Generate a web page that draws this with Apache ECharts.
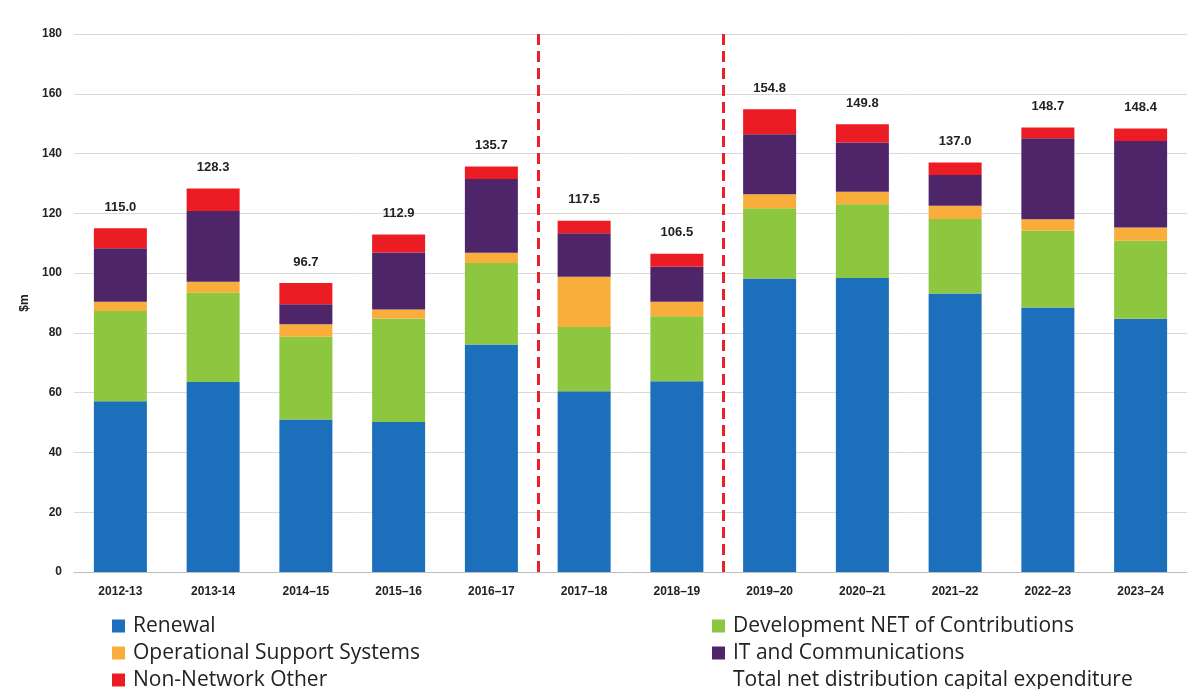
<!DOCTYPE html>
<html>
<head>
<meta charset="utf-8">
<script src="https://cdn.jsdelivr.net/npm/echarts@6/dist/echarts.min.js"></script>
<style>
  html, body { margin: 0; padding: 0; background: #ffffff; }
  #chart { width: 1187px; height: 689px; }
</style>
</head>
<body>
<div id="chart"></div>
<script>
// Financial years
const years = ['2012-13', '2013-14', '2014–15', '2015–16', '2016–17', '2017–18',
               '2018–19', '2019–20', '2020–21', '2021–22', '2022–23', '2023–24'];

// Capital expenditure components, $m
const renewal      = [57.1, 63.6, 51.0, 50.2, 76.1, 60.5, 63.8, 98.2, 98.4, 93.2, 88.5, 84.7];
const development  = [30.2, 29.8, 27.7, 34.6, 27.3, 21.5, 21.8, 23.5, 24.6, 24.9, 25.7, 26.1];
const operational  = [3.1, 3.7, 4.2, 3.0, 3.4, 16.8, 4.8, 4.7, 4.2, 4.4, 3.8, 4.5];
const itComms      = [17.9, 23.7, 6.7, 19.1, 24.7, 14.5, 11.7, 20.1, 16.5, 10.3, 27.1, 28.9];
const nonNetwork   = [6.7, 7.5, 7.1, 6.0, 4.2, 4.2, 4.4, 8.3, 6.1, 4.2, 3.6, 4.2];

// Total net distribution capital expenditure, $m
const totals       = [115.0, 128.3, 96.7, 112.9, 135.7, 117.5, 106.5, 154.8, 149.8, 137.0, 148.7, 148.4];

// Period boundaries (in category units) marked with dashed lines
const periodBreaks = [5, 7];

// Value axis ticks
const yTicks = [0, 20, 40, 60, 80, 100, 120, 140, 160, 180];

const FONT = '"Liberation Sans", Arial, sans-serif';
const LEGEND_FONT = '"Open Sans", "Liberation Sans", sans-serif';

const chart = echarts.init(document.getElementById('chart'), null, { renderer: 'canvas' });

function barSeries(name, data, color) {
  return {
    name: name,
    type: 'bar',
    stack: 'capex',
    barWidth: 53,
    data: data,
    itemStyle: { color: color },
    emphasis: { disabled: true }
  };
}

function legendColumn(left, names) {
  return {
    orient: 'vertical',
    left: left,
    top: 615,
    height: 100,
    padding: 0,
    itemWidth: 13,
    itemHeight: 13,
    itemGap: 5,
    icon: 'rect',
    textStyle: { color: '#222222', fontFamily: LEGEND_FONT, fontSize: 21, lineHeight: 22, padding: [0, 0, 0, 3] },
    data: names
  };
}

const option = {
  animation: false,
  backgroundColor: '#ffffff',
  textStyle: { fontFamily: FONT },
  grid: { left: 74, top: 34, width: 1121, height: 538 },
  xAxis: [
    {
      type: 'category',
      data: years,
      axisTick: { show: false },
      axisLine: { lineStyle: { color: '#bfbfbf', width: 1 } },
      axisLabel: { color: '#222222', fontSize: 12, fontWeight: 'bold', margin: 14 }
    },
    {
      type: 'value',
      min: 0,
      max: years.length,
      show: false
    }
  ],
  yAxis: {
    type: 'value',
    min: yTicks[0],
    max: yTicks[yTicks.length - 1],
    interval: yTicks[1] - yTicks[0],
    name: '$m',
    nameLocation: 'middle',
    nameGap: 33,
    nameTextStyle: { color: '#222222', fontSize: 12, fontWeight: 'bold' },
    axisLine: { show: false },
    axisTick: { show: false },
    axisLabel: { color: '#222222', fontSize: 12, fontWeight: 'bold', margin: 12 },
    splitLine: { lineStyle: { color: '#d9d9d9', width: 1 } }
  },
  legend: [
    legendColumn(112, ['Renewal', 'Operational Support Systems', 'Non-Network Other']),
    legendColumn(712, [
      'Development NET of Contributions',
      'IT and Communications',
      { name: 'Total net distribution capital expenditure', itemStyle: { color: 'rgba(0,0,0,0)', borderWidth: 0 } }
    ])
  ],
  series: [
    barSeries('Renewal', renewal, '#1b6fbb'),
    barSeries('Development NET of Contributions', development, '#8dc63f'),
    barSeries('Operational Support Systems', operational, '#f9ad3b'),
    barSeries('IT and Communications', itComms, '#4d2568'),
    barSeries('Non-Network Other', nonNetwork, '#ec1c24'),
    {
      name: 'Total net distribution capital expenditure',
      type: 'line',
      data: totals,
      symbol: 'circle',
      symbolSize: 1,
      itemStyle: { color: 'rgba(0,0,0,0)' },
      lineStyle: { width: 0, opacity: 0 },
      label: {
        show: true,
        position: 'top',
        distance: 14,
        color: '#222222',
        fontSize: 13,
        fontWeight: 'bold',
        formatter: p => p.value.toFixed(1)
      },
      emphasis: { disabled: true },
      z: 5
    },
    {
      name: 'periods',
      type: 'line',
      xAxisIndex: 1,
      data: [],
      silent: true,
      markLine: {
        silent: true,
        symbol: ['none', 'none'],
        label: { show: false },
        lineStyle: { color: '#e8202a', width: 3, type: [11, 6] },
        data: periodBreaks.map(v => ({ xAxis: v }))
      }
    }
  ]
};

chart.setOption(option);
</script>
</body>
</html>
